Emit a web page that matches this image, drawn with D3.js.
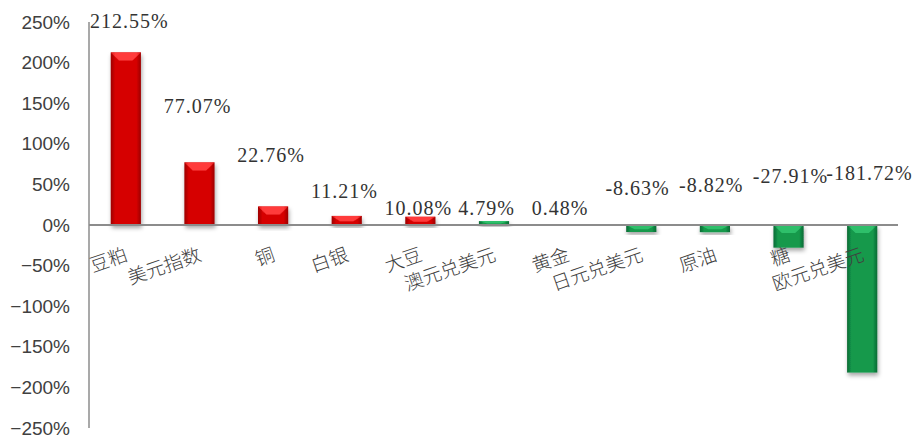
<!DOCTYPE html>
<html>
<head>
<meta charset="utf-8">
<script src="https://cdn.jsdelivr.net/npm/d3@7"></script>
<style>
    body { margin: 0; background: #fff; }
    svg { display: block; }
</style>
</head>
<body>
<svg id="chart" width="914" height="438"></svg>
<script>
const categories = ["豆粕", "美元指数", "铜", "白银", "大豆", "澳元兑美元", "黄金", "日元兑美元", "原油", "糖", "欧元兑美元"];
const changes = [212.55, 77.07, 22.76, 11.21, 10.08, 4.79, 0.48, -8.63, -8.82, -27.91, -181.72];
const yTicks = [250, 200, 150, 100, 50, 0, -50, -100, -150, -200, -250];

// Level (in % on the value axis) where each data label sits, as moved in the original.
const labelAt = [243, 138, 78, 33, 12, 12, 12, 37, 41, 52, 55];

const svg = d3.select("#chart");

const x = d3
    .scaleBand()
    .domain(categories)
    .range([89, 899])
    .paddingInner(0.59)
    .paddingOuter(0.295);

const y = d3
    .scaleLinear()
    .domain([-250, 250])
    .range([428, 22]);

const defs = svg.append("defs");

function sideGradient(id, edge, middle) {
    const g = defs
        .append("linearGradient")
        .attr("id", id)
        .attr("x1", "0%")
        .attr("x2", "100%");
    g.append("stop").attr("offset", "0%").attr("stop-color", edge);
    g.append("stop").attr("offset", "15%").attr("stop-color", middle);
    g.append("stop").attr("offset", "85%").attr("stop-color", middle);
    g.append("stop").attr("offset", "100%").attr("stop-color", edge);
}

sideGradient("red-body", "#9c0000", "#d60606");
sideGradient("green-body", "#0a6a34", "#14994c");
sideGradient("red-cap", "#e01010", "#ff3a3a");
sideGradient("green-cap", "#128a45", "#2fbf6a");

const shadow = defs
    .append("filter")
    .attr("id", "shadow")
    .attr("x", "-30%")
    .attr("y", "-30%")
    .attr("width", "160%")
    .attr("height", "160%");

shadow
    .append("feDropShadow")
    .attr("dx", 1)
    .attr("dy", 3)
    .attr("stdDeviation", 2)
    .attr("flood-color", "#000")
    .attr("flood-opacity", 0.35);

// Value axis, labels only
const axis = svg
    .append("g")
    .attr("transform", "translate(89,0)")
    .call(d3.axisLeft(y)
        .tickValues(yTicks)
        .tickSize(0)
        .tickPadding(19)
        .tickFormat(d => (d < 0 ? "\u2212" + (-d) : d) + "%"));

axis.select(".domain").remove();

axis
    .selectAll("text")
    .attr("fill", "#404040")
    .style("font-family", "'Liberation Sans', Arial, sans-serif")
    .style("font-size", "19px");

svg
    .append("line")
    .attr("x1", 89)
    .attr("x2", 89)
    .attr("y1", y(250))
    .attr("y2", y(-250))
    .attr("stroke", "#8c8c8c")
    .attr("stroke-width", 1.5);

// Bars
const bars = svg
    .append("g")
    .selectAll("g")
    .data(categories)
    .join("g")
    .attr("filter", "url(#shadow)");

const colour = i => (i < 5 ? "red" : "green");

bars
    .append("rect")
    .attr("x", d => x(d))
    .attr("width", x.bandwidth())
    .attr("y", (d, i) => y(Math.max(0, changes[i])))
    .attr("height", (d, i) => Math.abs(y(changes[i]) - y(0)))
    .attr("fill", (d, i) => `url(#${colour(i)}-body)`);

bars
    .append("polygon")
    .attr("points", (d, i) => {
        const x0 = x(d);
        const x1 = x0 + x.bandwidth();
        const top = y(Math.max(0, changes[i]));
        const h = Math.min(8, Math.abs(y(changes[i]) - y(0)) * 0.6);
        const inset = x.bandwidth() * 0.28;
        return [[x0, top], [x1, top], [x1 - inset, top + h], [x0 + inset, top + h]].join(" ");
    })
    .attr("fill", (d, i) => `url(#${colour(i)}-cap)`);

// Zero line
svg
    .append("line")
    .attr("x1", 89)
    .attr("x2", 898)
    .attr("y1", y(0))
    .attr("y2", y(0))
    .attr("stroke", "#8c8c8c")
    .attr("stroke-width", 2);

// Data labels
const step = x.step();

svg
    .append("g")
    .selectAll("text")
    .data(categories)
    .join("text")
    .attr("x", d => x(d) + x.bandwidth() / 2 - step / 2 + 1)
    .attr("y", (d, i) => y(labelAt[i]))
    .attr("fill", "#333")
    .style("font-family", "'Liberation Serif', 'Times New Roman', serif")
    .style("font-size", "20px")
    .style("letter-spacing", "1px")
    .text((d, i) => changes[i].toFixed(2) + "%");

// Category labels
svg
    .append("g")
    .selectAll("text")
    .data(categories)
    .join("text")
    .attr("transform", d => `translate(${x(d) + x.bandwidth() / 2 + 3},${y(0) + 35}) rotate(-19)`)
    .attr("text-anchor", "end")
    .attr("fill", "#404040")
    .style("font-family", "'Noto Sans CJK SC', sans-serif")
    .style("font-size", "19px")
    .style("font-weight", 300)
    .text(d => d);
</script>
</body>
</html>
